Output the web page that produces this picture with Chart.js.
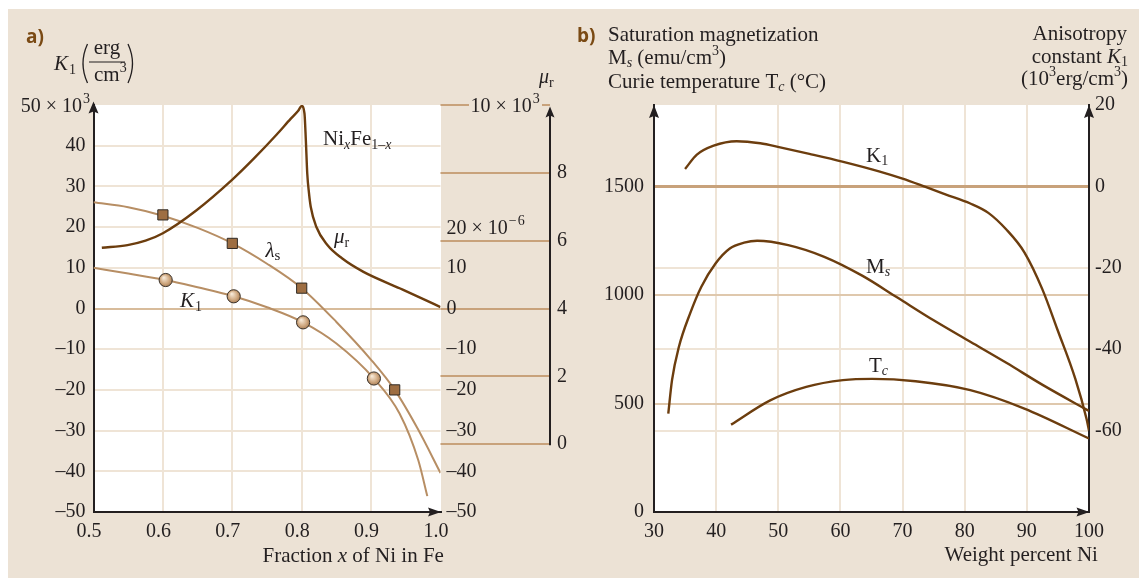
<!DOCTYPE html>
<html><head><meta charset="utf-8">
<script src="https://cdn.jsdelivr.net/npm/chart.js@4.4.1/dist/chart.umd.min.js"></script>
<style>
html,body{margin:0;padding:0;background:#fff;}
body{width:1139px;height:578px;position:relative;overflow:hidden;}
#bg{position:absolute;left:8px;top:9px;width:1131px;height:569px;background:#ece2d5;}
canvas{position:absolute;top:0;}
#ca{left:0;width:570px;height:578px;}
#cb{left:570px;width:569px;height:578px;}
</style></head><body>
<div id="bg"></div>
<canvas id="ca" width="570" height="578"></canvas>
<canvas id="cb" width="569" height="578"></canvas>
<script>
// ---------------- panel a data ----------------
const aXTicks = [0.5, 0.6, 0.7, 0.8, 0.9, 1.0];
const muTicks = [0, 2, 4, 6, 8, 10];
// relative permeability mu_r (units of 10^3)
const muX = [0.512,0.549,0.575,0.600,0.648,0.700,0.732,0.764,0.784,0.795,0.800,0.804,0.806,0.808,0.8105,0.813,0.821,0.837,0.858,0.889,0.942,0.973,1.000];
const muY = [5.79,5.87,6.00,6.22,6.89,7.80,8.44,9.13,9.59,9.83,9.97,9.75,8.95,7.98,7.40,7.00,6.41,5.87,5.48,5.08,4.59,4.30,4.04];
// magnetostriction lambda_s (units of 10^-6)
const lamX = [0.5,0.55,0.6,0.65,0.7,0.75,0.8,0.85,0.9,0.934,0.967,1.0];
const lamY = [26.1,24.9,22.8,19.8,16.0,11.0,5.0,-3.3,-12.6,-20.0,-29.5,-40.4];
const lamPtX = [0.6,0.7,0.8,0.934];
const lamPtY = [23,16,5,-20];
// anisotropy K1 (units of 10^3 erg/cm^3)
const k1aX = [0.5,0.55,0.604,0.65,0.702,0.75,0.802,0.85,0.904,0.941,0.968,0.981];
const k1aY = [10.0,8.6,7.0,5.2,3.0,0.3,-3.4,-8.6,-17.2,-25.8,-37.3,-46.1];
const k1PtX = [0.604,0.702,0.802,0.904];
const k1PtY = [7,3,-3.4,-17.2];

// ---------------- panel b data ----------------
const bXTicks = [30,40,50,60,70,80,90,100];
const bLeftTicks = [0,500,1000,1500];
const bRightTicks = [20,0,-20,-40,-60];
const msX = [32.3,32.9,34.0,35.8,37.6,39.9,42.2,44.5,46.6,51.6,57.4,63.5,69.1,75,80.9,86.7,92.6,100];
const msY = [454,608,761,915,1038,1146,1215,1242,1251,1231,1177,1090,990,884,785,688,585,466];
const tcX = [42.4,48.7,54.5,60.4,65.1,72.1,80.9,89.6,100];
const tcY = [403,515,577,608,614,603,562,477,339];
const k1bX = [35,36.9,39.6,43.3,47.1,50.3,55,60.3,66.2,70,73.8,77,80.9,83.8,86.7,89.6,92.5,94.9,97.8,99.6,100];
const k1bY = [4.3,7.8,10.0,11.1,10.6,9.6,8.0,6.1,3.7,1.9,-0.2,-2.0,-4.2,-6.5,-10.6,-16.2,-25.3,-35.1,-47.3,-57.1,-60];

// ---------------- style ----------------
const SERIF = "'Liberation Serif','Times New Roman',serif";
const SANS = "'Open Sans','Liberation Sans',sans-serif";
const INK = '#231f20';
const GRID = '#efe4d6';
const TAN = '#c8a27b';
const TAN0 = '#d8bc9b';
const TANL = '#dfc8ad';
const DARK = '#6c3d0e';
const LIGHTBR = '#b78e64';
const BROWNTXT = '#7a4a14';

Chart.defaults.font.family = SERIF;
Chart.defaults.font.size = 20;
Chart.defaults.color = INK;

const zip = (xs, ys) => xs.map((x, i) => ({x: x, y: ys[i]}));
const dash = v => v < 0 ? '\u2013' + Math.abs(v) : String(v);

function drawRuns(ctx, x, y, parts, align) {
  const fontOf = p => (p.i ? 'italic ' : '') + (p.b ? 'bold ' : '') + (p.s || 21) + 'px ' + (p.f || SERIF);
  let w = 0;
  for (const p of parts) { ctx.font = fontOf(p); w += ctx.measureText(p.t).width + (p.gap || 0); }
  let cx = align === 'right' ? x - w : (align === 'center' ? x - w / 2 : x);
  for (const p of parts) {
    ctx.font = fontOf(p);
    cx += (p.gap || 0);
    ctx.fillText(p.t, cx, y + (p.dy || 0));
    cx += ctx.measureText(p.t).width;
  }
}
function arrowUp(ctx, x, tip, len, half) {
  ctx.beginPath(); ctx.moveTo(x, tip); ctx.lineTo(x - half, tip + len); ctx.lineTo(x, tip + len - 2); ctx.lineTo(x + half, tip + len); ctx.closePath(); ctx.fill();
}
function arrowRight(ctx, tip, y, len, half) {
  ctx.beginPath(); ctx.moveTo(tip, y); ctx.lineTo(tip - len, y - half); ctx.lineTo(tip - len + 2, y); ctx.lineTo(tip - len, y + half); ctx.closePath(); ctx.fill();
}
function ballFill(c) {
  if (!c.raw) return '#d4b08a';
  const ch = c.chart;
  const px = ch.scales.x.getPixelForValue(c.raw.x), py = ch.scales.y.getPixelForValue(c.raw.y);
  if (!isFinite(px) || !isFinite(py)) return '#d4b08a';
  const g = ch.ctx.createRadialGradient(px - 2, py - 2.5, 0.5, px, py, 7);
  g.addColorStop(0, '#f6e8d6'); g.addColorStop(0.6, '#d1ab84'); g.addColorStop(1, '#a87c52');
  return g;
}

// ---------------- panel a plugin ----------------
const panelA = {
  id: 'panelA',
  beforeDraw(chart) {
    const {ctx, chartArea: a} = chart;
    const mu = chart.scales.yMu;
    ctx.save();
    ctx.fillStyle = '#ffffff';
    ctx.fillRect(a.left, a.top, a.right - a.left + 0.5, a.bottom - a.top);
    ctx.strokeStyle = TAN; ctx.lineWidth = 2;
    for (const v of muTicks) {
      const y = Math.round(mu.getPixelForValue(v));
      ctx.beginPath();
      if (v === 10) {
        ctx.moveTo(a.right, y); ctx.lineTo(a.right + 28.5, y);
        ctx.moveTo(mu.left - 8, y); ctx.lineTo(mu.left, y);
      } else {
        ctx.moveTo(a.right, y); ctx.lineTo(mu.left, y);
      }
      ctx.stroke();
    }
    ctx.restore();
  },
  afterDraw(chart) {
    const {ctx, chartArea: a} = chart;
    const mu = chart.scales.yMu, yl = chart.scales.yL, yk = chart.scales.y;
    ctx.save();
    ctx.fillStyle = INK; ctx.strokeStyle = INK;
    ctx.textAlign = 'left'; ctx.textBaseline = 'alphabetic';
    arrowUp(ctx, a.left, 101.5, 12, 5);
    arrowRight(ctx, a.right + 0.5, a.bottom, 13, 4.5);
    ctx.lineWidth = 2;
    ctx.beginPath(); ctx.moveTo(mu.left, mu.getPixelForValue(0) + 1); ctx.lineTo(mu.left, 112); ctx.stroke();
    arrowUp(ctx, mu.left, 106.5, 11, 4.5);
    ctx.fillStyle = BROWNTXT;
    drawRuns(ctx, 26, 43, [{t: 'a)', b: true, s: 19, f: SANS}]);
    ctx.fillStyle = INK;
    // top tick of K1 axis: 50 x 10^3
    drawRuns(ctx, 90, yk.getPixelForValue(50) + 7, [{t: '50 \u00d7 10', s: 20}, {t: '3', s: 14, dy: -9, gap: 1}], 'right');
    drawRuns(ctx, 54, 70, [{t: 'K', i: true}, {t: '1', s: 14, dy: 4, gap: 1}]);
    ctx.lineWidth = 1.3;
    ctx.beginPath(); ctx.moveTo(87.5, 44); ctx.quadraticCurveTo(78.5, 63.5, 87.5, 83); ctx.stroke();
    ctx.beginPath(); ctx.moveTo(128, 44); ctx.quadraticCurveTo(137, 63.5, 128, 83); ctx.stroke();
    drawRuns(ctx, 107, 54, [{t: 'erg'}], 'center');
    ctx.lineWidth = 1.2;
    ctx.beginPath(); ctx.moveTo(89, 62); ctx.lineTo(125, 62); ctx.stroke();
    drawRuns(ctx, 94, 81, [{t: 'cm'}, {t: '3', s: 14, dy: -9}]);
    drawRuns(ctx, 539, 83, [{t: '\u03bc', i: true, s: 20}, {t: 'r', s: 14, dy: 4}]);
    const y10 = mu.getPixelForValue(10);
    drawRuns(ctx, 470.5, y10 + 7, [{t: '10 \u00d7 10', s: 20}, {t: '3', s: 14, dy: -9, gap: 1}]);
    const y20 = yl.getPixelForValue(20);
    drawRuns(ctx, yl.left + 6, y20 + 7, [{t: '20 \u00d7 10', s: 20}, {t: '\u2212\u200a6', s: 14, dy: -9, gap: 1}]);
    drawRuns(ctx, 323, 145, [{t: 'Ni'}, {t: 'x', i: true, s: 14, dy: 4}, {t: 'Fe'}, {t: '1\u2013', s: 14, dy: 4}, {t: 'x', i: true, s: 14, dy: 4}]);
    drawRuns(ctx, 334, 243, [{t: '\u03bc', i: true}, {t: 'r', s: 14, dy: 4}]);
    drawRuns(ctx, 265.5, 257, [{t: '\u03bb', i: true}, {t: 's', s: 15, dy: 3}]);
    drawRuns(ctx, 180, 307, [{t: 'K', i: true}, {t: '1', s: 14, dy: 3.5, gap: 1}]);
    drawRuns(ctx, 262.5, 562, [{t: 'Fraction '}, {t: 'x', i: true}, {t: ' of Ni in Fe'}]);
    ctx.restore();
  }
};

// ---------------- panel b plugin ----------------
const OX = 570;
const panelB = {
  id: 'panelB',
  beforeDraw(chart) {
    const {ctx, chartArea: a} = chart;
    ctx.save();
    ctx.fillStyle = '#ffffff';
    ctx.fillRect(a.left, a.top, a.right - a.left, a.bottom - a.top);
    ctx.restore();
  },
  afterDraw(chart) {
    const {ctx, chartArea: a} = chart;
    ctx.save();
    ctx.fillStyle = INK;
    ctx.textAlign = 'left'; ctx.textBaseline = 'alphabetic';
    arrowUp(ctx, a.left, 105, 13, 5);
    arrowUp(ctx, a.right, 105, 13, 5);
    arrowRight(ctx, a.right + 0.5, a.bottom, 13, 4.5);
    ctx.fillStyle = BROWNTXT;
    drawRuns(ctx, 577 - OX, 42, [{t: 'b)', b: true, s: 19, f: SANS}]);
    ctx.fillStyle = INK;
    drawRuns(ctx, 608 - OX, 41, [{t: 'Saturation magnetization'}]);
    drawRuns(ctx, 608 - OX, 64, [{t: 'M'}, {t: 's', i: true, s: 14, dy: 3}, {t: ' (emu/cm'}, {t: '3', s: 14, dy: -9}, {t: ')'}]);
    drawRuns(ctx, 608 - OX, 88, [{t: 'Curie temperature T'}, {t: 'c', i: true, s: 14, dy: 3}, {t: ' (\u00b0C)'}]);
    drawRuns(ctx, 1127 - OX, 40, [{t: 'Anisotropy'}], 'right');
    drawRuns(ctx, 1128 - OX, 63, [{t: 'constant '}, {t: 'K', i: true}, {t: '1', s: 14, dy: 3}], 'right');
    drawRuns(ctx, 1128 - OX, 85, [{t: '(10'}, {t: '3', s: 14, dy: -9}, {t: 'erg/cm'}, {t: '3', s: 14, dy: -9}, {t: ')'}], 'right');
    drawRuns(ctx, 866 - OX, 162, [{t: 'K'}, {t: '1', s: 14, dy: 3}]);
    drawRuns(ctx, 866 - OX, 273, [{t: 'M'}, {t: 's', i: true, s: 14, dy: 3}]);
    drawRuns(ctx, 869 - OX, 372, [{t: 'T'}, {t: 'c', i: true, s: 14, dy: 3}]);
    drawRuns(ctx, 944.5 - OX, 561, [{t: 'Weight percent Ni'}]);
    ctx.restore();
  }
};

// ---------------- chart a ----------------
new Chart(document.getElementById('ca'), {
  type: 'line',
  data: {
    datasets: [
      {label: 'lambda_s data', data: zip(lamPtX, lamPtY), yAxisID: 'yL', showLine: false,
       pointStyle: 'rect', pointRadius: 7.2, backgroundColor: '#9e6e42', borderColor: '#2f2a24', borderWidth: 1},
      {label: 'K1 data', data: zip(k1PtX, k1PtY), yAxisID: 'y', showLine: false,
       pointStyle: 'circle', pointRadius: 6.6, backgroundColor: ballFill, borderColor: '#3a332c', borderWidth: 1},
      {label: 'mu_r', data: zip(muX, muY), yAxisID: 'yMu', borderColor: DARK, borderWidth: 2.4,
       pointRadius: 0, cubicInterpolationMode: 'monotone', fill: false},
      {label: 'lambda_s', data: zip(lamX, lamY), yAxisID: 'yL', borderColor: LIGHTBR, borderWidth: 2,
       pointRadius: 0, cubicInterpolationMode: 'monotone', fill: false},
      {label: 'K1', data: zip(k1aX, k1aY), yAxisID: 'y', borderColor: LIGHTBR, borderWidth: 2,
       pointRadius: 0, cubicInterpolationMode: 'monotone', fill: false}
    ]
  },
  options: {
    responsive: false, animation: false, devicePixelRatio: 1, events: [],
    layout: {padding: {top: 105, left: 0, right: 0, bottom: 0}},
    plugins: {legend: {display: false}, tooltip: {enabled: false}},
    scales: {
      x: {
        type: 'linear', position: 'bottom', min: 0.5, max: 1.0,
        afterFit: s => { s.height = 66; },
        afterBuildTicks: s => { s.ticks = aXTicks.map(v => ({value: v})); },
        ticks: {padding: 8, labelOffset: -4.5, callback: v => Number(v).toFixed(1), maxRotation: 0, autoSkip: false},
        grid: {color: c => (c.tick && (c.tick.value === 0.5 || c.tick.value === 1.0)) ? 'rgba(0,0,0,0)' : GRID, lineWidth: 2, drawTicks: false},
        border: {color: INK, width: 2}
      },
      y: {
        type: 'linear', position: 'left', min: -50, max: 50,
        afterFit: s => { s.width = 93.5; },
        ticks: {stepSize: 10, padding: 8, callback: v => v === 50 ? '' : dash(v)},
        grid: {color: c => {
          const v = c.tick ? c.tick.value : null;
          if (v === 0) return TAN0;
          if (v === 50 || v === -50) return 'rgba(0,0,0,0)';
          return GRID;
        }, lineWidth: 2, drawTicks: false},
        border: {color: INK, width: 2}
      },
      yL: {
        type: 'linear', position: 'right', min: -50, max: 50, weight: 0,
        afterFit: s => { s.width = 109.5; },
        ticks: {stepSize: 10, padding: 6, callback: v => v >= 20 ? '' : dash(v)},
        grid: {display: false, drawTicks: false},
        border: {display: false}
      },
      yMu: {
        type: 'linear', position: 'right', min: -2, max: 10, weight: 1,
        afterFit: s => { s.width = 20; },
        afterBuildTicks: s => { s.ticks = muTicks.filter(v => v < 10).map(v => ({value: v})); },
        ticks: {padding: 7, callback: v => String(v)},
        grid: {display: false, drawTicks: false},
        border: {display: false}
      }
    }
  },
  plugins: [panelA]
});

// ---------------- chart b ----------------
new Chart(document.getElementById('cb'), {
  type: 'line',
  data: {
    datasets: [
      {label: 'K1', data: zip(k1bX, k1bY), yAxisID: 'y2', borderColor: DARK, borderWidth: 2.4,
       pointRadius: 0, cubicInterpolationMode: 'monotone', fill: false},
      {label: 'Ms', data: zip(msX, msY), yAxisID: 'y', borderColor: DARK, borderWidth: 2.4,
       pointRadius: 0, cubicInterpolationMode: 'monotone', fill: false},
      {label: 'Tc', data: zip(tcX, tcY), yAxisID: 'y', borderColor: DARK, borderWidth: 2.4,
       pointRadius: 0, cubicInterpolationMode: 'monotone', fill: false}
    ]
  },
  options: {
    responsive: false, animation: false, devicePixelRatio: 1, events: [],
    layout: {padding: {top: 105, left: 0, right: 0, bottom: 0}},
    plugins: {legend: {display: false}, tooltip: {enabled: false}},
    scales: {
      x: {
        type: 'linear', position: 'bottom', min: 30, max: 100,
        afterFit: s => { s.height = 66; },
        afterBuildTicks: s => { s.ticks = bXTicks.map(v => ({value: v})); },
        ticks: {padding: 8, maxRotation: 0, autoSkip: false, callback: v => String(v)},
        grid: {color: c => (c.tick && (c.tick.value === 30 || c.tick.value === 100)) ? 'rgba(0,0,0,0)' : GRID, lineWidth: 2, drawTicks: false},
        border: {color: INK, width: 2}
      },
      y: {
        type: 'linear', position: 'left', min: 0, max: 1877,
        afterFit: s => { s.width = 84; },
        afterBuildTicks: s => { s.ticks = bLeftTicks.map(v => ({value: v})); },
        ticks: {padding: 10, callback: v => String(v)},
        grid: {color: c => {
          const v = c.tick ? c.tick.value : null;
          if (v === 1500) return TAN;
          if (v === 0) return 'rgba(0,0,0,0)';
          return TANL;
        }, lineWidth: c => (c.tick && c.tick.value === 1500) ? 3 : 2, drawTicks: false},
        border: {color: INK, width: 2}
      },
      y2: {
        type: 'linear', position: 'right', min: -80, max: 20,
        afterFit: s => { s.width = 50; },
        afterBuildTicks: s => { s.ticks = bRightTicks.map(v => ({value: v})); },
        ticks: {padding: 6, callback: v => String(v)},
        grid: {color: c => {
          const v = c.tick ? c.tick.value : null;
          return (v === -20 || v === -40 || v === -60) ? GRID : 'rgba(0,0,0,0)';
        }, lineWidth: 2, drawTicks: false},
        border: {color: INK, width: 2}
      }
    }
  },
  plugins: [panelB]
});
</script>
</body></html>
